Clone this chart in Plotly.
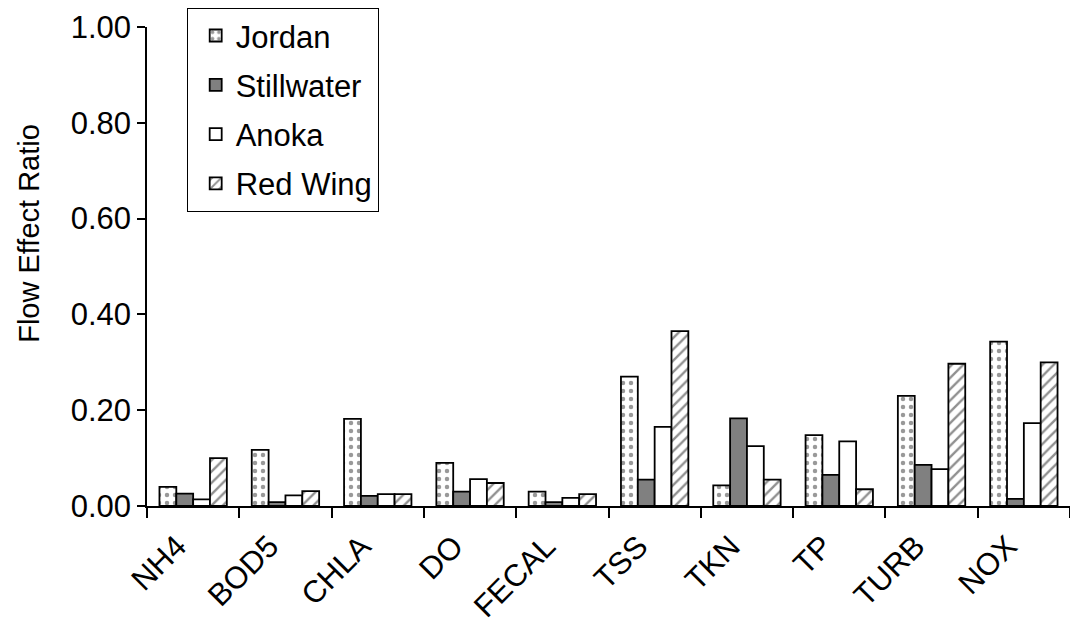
import plotly.graph_objects as go

categories = ["NH4", "BOD5", "CHLA", "DO", "FECAL", "TSS", "TKN", "TP", "TURB", "NOX"]
jordan = [0.040, 0.117, 0.182, 0.090, 0.030, 0.270, 0.043, 0.148, 0.230, 0.343]
stillwater = [0.026, 0.008, 0.021, 0.030, 0.008, 0.055, 0.183, 0.065, 0.086, 0.015]
anoka = [0.014, 0.022, 0.025, 0.056, 0.017, 0.165, 0.125, 0.135, 0.077, 0.173]
red_wing = [0.100, 0.031, 0.025, 0.048, 0.025, 0.365, 0.055, 0.035, 0.297, 0.300]
y_ticks = [0.0, 0.2, 0.4, 0.6, 0.8, 1.0]

series = [
    ("Jordan", jordan, dict(color="white", pattern=dict(shape=".", fgcolor="#333", bgcolor="white", size=8, solidity=0.25))),
    ("Stillwater", stillwater, dict(color="#808080")),
    ("Anoka", anoka, dict(color="white")),
    ("Red Wing", red_wing, dict(color="white", pattern=dict(shape="/", fgcolor="#222", bgcolor="white", size=8, solidity=0.3))),
]

fig = go.Figure()
for i, (name, vals, mk) in enumerate(series):
    marker = dict(mk)
    marker["line"] = dict(color="black", width=1.8)
    fig.add_trace(go.Bar(x=categories, y=vals, name=name, marker=marker,
                         legendgroup=f"g{i}"))

font = "Liberation Sans, Arial, sans-serif"
fig.update_layout(
    width=1070, height=628,
    margin=dict(l=147, r=0, t=27, b=122, autoexpand=False),
    paper_bgcolor="white", plot_bgcolor="white",
    barmode="group", bargap=0.27, bargroupgap=0,
    font=dict(family=font, size=31, color="black"),
    showlegend=True,
    legend=dict(
        x=0.043, y=1.04, xanchor="left", yanchor="top",
        bordercolor="black", borderwidth=1, bgcolor="white",
        font=dict(size=31, family=font, color="black"),
        tracegroupgap=6, itemwidth=30, indentation=8,
        entrywidth=187, entrywidthmode="pixels",
    ),
    xaxis=dict(
        type="category", showline=True, linecolor="black", linewidth=1.5,
        ticks="outside", tickson="boundaries", ticklen=10, tickwidth=1.5, tickcolor="black",
        tickangle=-45, tickfont=dict(size=31, family=font), showgrid=False, zeroline=False,
        automargin=False, ticklabelshift=-16, ticklabelstandoff=8,
    ),
    yaxis=dict(
        range=[0, 1.0], tickvals=y_ticks, tickformat=".2f",
        showline=True, linecolor="black", linewidth=1.5,
        ticks="outside", ticklen=8, tickwidth=1.5, tickcolor="black",
        tickfont=dict(size=31, family=font), showgrid=False, zeroline=False,
        automargin=False,
    ),
    annotations=[dict(
        text="Flow Effect Ratio", textangle=-90, showarrow=False,
        xref="paper", yref="paper", x=-0.128, y=0.57,
        xanchor="center", yanchor="middle",
        font=dict(size=29, family=font, color="black"),
    )],
)

fig.write_html("out.html")
